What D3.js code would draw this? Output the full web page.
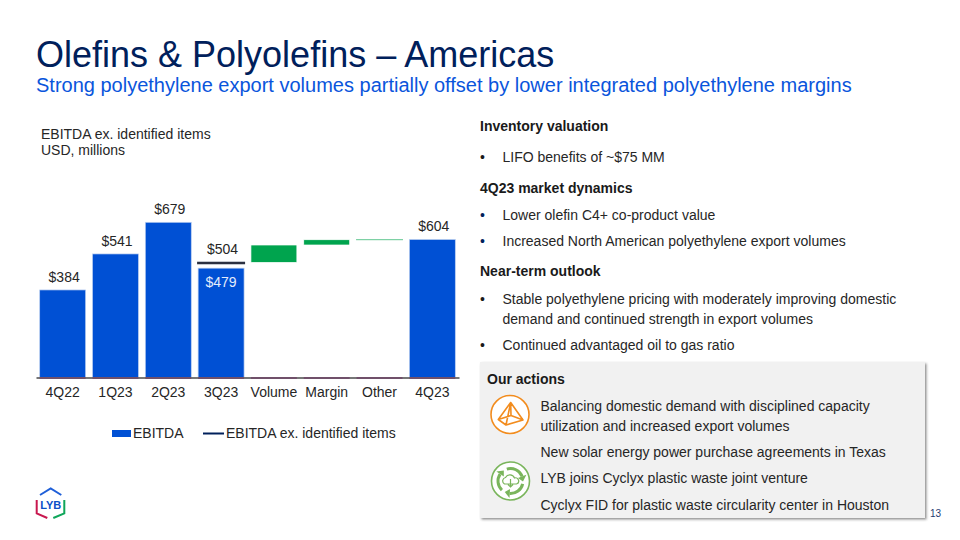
<!DOCTYPE html>
<html>
<head>
<meta charset="utf-8">
<script src="https://cdn.jsdelivr.net/npm/d3@7"></script>
<style>
  html, body { margin: 0; padding: 0; background: #fff; }
  svg { display: block; }
  text { font-family: "Liberation Sans", Arial, sans-serif; fill: #262626; }
</style>
</head>
<body>
<div id="chart"></div>
<script>
// chart data
var categories = ['4Q22', '1Q23', '2Q23', '3Q23', 'Volume', 'Margin', 'Other', '4Q23'];
var barBase = [0, 0, 0, 0, 504, 580, 603, 0];
var barValue = [384, 541, 679, 479, 76, 23, 1, 604];
var barKind = ['total', 'total', 'total', 'total', 'delta', 'delta', 'delta', 'total'];
var barLabels = ['$384', '$541', '$679', '$479', '', '', '', '$604'];
var exItemsCategory = '3Q23';
var exItemsValue = 504;
var exItemsLabel = '$504';

// right column text
var topBlocks = [
  ['head', 'Inventory valuation', 131],
  ['dot', 'LIFO benefits of ~$75 MM', 162],
  ['head', '4Q23 market dynamics', 193],
  ['dotBlue', 'Lower olefin C4+ co-product value', 220],
  ['dotBlue', 'Increased North American polyethylene export volumes', 246],
  ['head', 'Near-term outlook', 276],
  ['dot', 'Stable polyethylene pricing with moderately improving domestic', 304],
  ['cont', 'demand and continued strength in export volumes', 324],
  ['dot', 'Continued advantaged oil to gas ratio', 350]
];
var actionLines = [
  ['Balancing domestic demand with disciplined capacity', 411],
  ['utilization and increased export volumes', 431],
  ['New solar energy power purchase agreements in Texas', 457],
  ['LYB joins Cyclyx plastic waste joint venture', 483],
  ['Cyclyx FID for plastic waste circularity center in Houston', 510]
];

var svg = d3.select('#chart').append('svg')
  .attr('width', 960)
  .attr('height', 540);

var defs = svg.append('defs');
var blur = defs.append('filter').attr('id', 'boxShadow')
  .attr('x', '-5%').attr('y', '-5%').attr('width', '110%').attr('height', '110%');
blur.append('feDropShadow')
  .attr('dx', 1.5).attr('dy', 1.5).attr('stdDeviation', 1)
  .attr('flood-color', '#444').attr('flood-opacity', 0.6);

// titles
svg.append('text').attr('x', 36).attr('y', 66.5)
  .attr('font-size', 36).style('fill', '#00205b')
  .text('Olefins & Polyolefins \u2013 Americas');
svg.append('text').attr('x', 36).attr('y', 92)
  .attr('font-size', 20).style('fill', '#0a55dc')
  .text('Strong polyethylene export volumes partially offset by lower integrated polyethylene margins');

svg.append('text').attr('x', 41).attr('y', 138.5).attr('font-size', 14).text('EBITDA ex. identified items');
svg.append('text').attr('x', 41).attr('y', 154.5).attr('font-size', 14).text('USD, millions');

// scales
var x = d3.scaleBand().domain(categories).range([36, 459]).paddingInner(0.13).paddingOuter(0.07);
var y = d3.scaleLinear().domain([0, 679]).range([378, 222.3]);

// bars
var bars = categories.map(function(c, i) {
  return { cat: c, base: barBase[i], value: barValue[i], kind: barKind[i], label: barLabels[i] };
});

svg.selectAll('rect.bar').data(bars).enter().append('rect')
  .attr('class', 'bar')
  .attr('x', function(d) { return x(d.cat); })
  .attr('width', x.bandwidth())
  .attr('y', function(d) { return y(d.base + d.value); })
  .attr('height', function(d) { return y(d.base) - y(d.base + d.value); })
  .attr('fill', function(d) { return d.kind === 'total' ? '#0050d4' : '#00a44e'; })
  .attr('stroke', function(d) {
    if (d.kind === 'total') return '#bcd0f0';
    return d.value < 3 ? '#00a44e' : '#ffffff';
  })
  .attr('stroke-width', function(d) { return d.value < 3 ? 1 : 0.7; })
  .attr('opacity', function(d) { return d.value < 3 ? 0.5 : 1; });

// axis
var axis = d3.axisBottom(x).tickSize(0).tickPadding(10);
var axisG = svg.append('g').attr('transform', 'translate(0,377.5)').call(axis);
axisG.select('.domain').attr('stroke', '#777').attr('stroke-width', 1.8);
axisG.selectAll('text').attr('font-size', 14).attr('font-family', '"Liberation Sans", Arial, sans-serif').style('fill', '#262626');
svg.selectAll('line.zero').data(categories).enter().append('line')
  .attr('class', 'zero')
  .attr('x1', function(d) { return x(d); })
  .attr('x2', function(d) { return x(d) + x.bandwidth(); })
  .attr('y1', 378).attr('y2', 378)
  .attr('stroke', '#6b2a5e').attr('stroke-width', 1);

// value labels
svg.selectAll('text.val').data(bars.filter(function(d) { return d.label; })).enter().append('text')
  .attr('class', 'val')
  .attr('text-anchor', 'middle')
  .attr('font-size', 14)
  .attr('x', function(d) { return x(d.cat) + x.bandwidth() / 2 + (d.cat === exItemsCategory ? 0 : 1.5); })
  .attr('y', function(d) { return d.cat === exItemsCategory ? y(d.value) + 19 : y(d.value) - 8; })
  .style('fill', function(d) { return d.cat === exItemsCategory ? '#e4ecfb' : '#262626'; })
  .text(function(d) { return d.label; });

// ex identified items marker
svg.append('line')
  .attr('x1', x(exItemsCategory) - 1)
  .attr('x2', x(exItemsCategory) + x.bandwidth() + 1)
  .attr('y1', y(exItemsValue) + 0.5).attr('y2', y(exItemsValue) + 0.5)
  .attr('stroke', '#c4c8cf').attr('stroke-width', 4);
svg.append('line')
  .attr('x1', x(exItemsCategory) - 1)
  .attr('x2', x(exItemsCategory) + x.bandwidth() + 1)
  .attr('y1', y(exItemsValue) + 0.5).attr('y2', y(exItemsValue) + 0.5)
  .attr('stroke', '#2b3040').attr('stroke-width', 2);
svg.append('text')
  .attr('text-anchor', 'middle').attr('font-size', 14)
  .attr('x', x(exItemsCategory) + x.bandwidth() / 2 + 1.5)
  .attr('y', y(exItemsValue) - 8)
  .text(exItemsLabel);

// legend
svg.append('rect').attr('x', 112).attr('y', 430).attr('width', 19).attr('height', 7).attr('fill', '#0050d4');
svg.append('text').attr('x', 133).attr('y', 438).attr('font-size', 14).text('EBITDA');
svg.append('line').attr('x1', 203).attr('x2', 224).attr('y1', 433.5).attr('y2', 433.5)
  .attr('stroke', '#00205b').attr('stroke-width', 2);
svg.append('text').attr('x', 226).attr('y', 438).attr('font-size', 14).text('EBITDA ex. identified items');

// right column
topBlocks.forEach(function(b) {
  var kind = b[0];
  if (kind === 'head') {
    svg.append('text').attr('x', 480).attr('y', b[2]).attr('font-size', 14)
      .attr('font-weight', 'bold').style('fill', '#1a1a1a').text(b[1]);
    return;
  }
  if (kind !== 'cont') {
    svg.append('text').attr('x', 480).attr('y', b[2]).attr('font-size', 14)
      .style('fill', kind === 'dotBlue' ? '#00205b' : '#1a1a1a').text('\u2022');
  }
  svg.append('text').attr('x', 502.5).attr('y', b[2]).attr('font-size', 14).text(b[1]);
});

// actions box
svg.append('rect').attr('x', 480).attr('y', 362).attr('width', 445).attr('height', 156)
  .attr('fill', '#f1f1f1').attr('filter', 'url(#boxShadow)');
svg.append('text').attr('x', 487).attr('y', 383.5).attr('font-size', 14)
  .attr('font-weight', 'bold').style('fill', '#1a1a1a').text('Our actions');
actionLines.forEach(function(l) {
  svg.append('text').attr('x', 540.5).attr('y', l[1]).attr('font-size', 14).text(l[0]);
});

// orange pyramid icon
var ic1 = svg.append('g').attr('transform', 'translate(510,414.5)');
ic1.append('circle').attr('r', 19).attr('fill', '#fff').attr('stroke', '#f28c1e').attr('stroke-width', 1.6);
ic1.append('path').attr('d', 'M0.7,-12 L-11.7,5 L-4,10.5 L13,5.5 Z M0.7,-12 L-4,10.5 M0.7,-12 L1,1 L-11.7,5 M1,1 L13,5.5')
  .attr('fill', 'none').attr('stroke', '#f28c1e').attr('stroke-width', 1.6).attr('stroke-linejoin', 'round');

// green circular icon
var ic2 = svg.append('g').attr('transform', 'translate(510.5,481)');
ic2.append('circle').attr('r', 19).attr('fill', '#fff').attr('stroke', '#7ab55c').attr('stroke-width', 1.6);
var arc = d3.arc().innerRadius(11).outerRadius(14);
[[-0.3, 1.2], [1.8, 3.2], [3.9, 5.3]].forEach(function(a) {
  ic2.append('path').attr('d', arc({ startAngle: a[0], endAngle: a[1] })).attr('fill', '#7ab55c');
  var r = 12.5;
  var tip = a[1] + 0.42;
  var p = function(rad, ang) { return [rad * Math.sin(ang), -rad * Math.cos(ang)]; };
  ic2.append('path').attr('d', 'M' + p(r - 4.5, a[1]) + ' L' + p(r + 4.5, a[1]) + ' L' + p(r, tip) + ' Z').attr('fill', '#7ab55c');
});
ic2.append('path').attr('d', 'M-6,3 a3.5,3.5 0 0 1 1,-6.5 a5,5 0 0 1 9,0.5 a3,3 0 0 1 2,6 Z M0,-2 V6 M-2.5,3.5 L0,6 L2.5,3.5')
  .attr('fill', 'none').attr('stroke', '#7ab55c').attr('stroke-width', 1.2);

// logo
var logo = svg.append('g').attr('fill', 'none').attr('stroke-width', 2);
logo.append('path').attr('d', 'M40,495 L50.7,488.5 L61.3,495').attr('stroke', '#1f5fd8');
logo.append('path').attr('d', 'M36.7,500 V513.3 L47.3,518').attr('stroke', '#c8184f');
logo.append('path').attr('d', 'M64.3,500 V513.3 L53.3,518').attr('stroke', '#0fa65a');
svg.append('text').attr('x', 50.8).attr('y', 508.5).attr('text-anchor', 'middle')
  .attr('font-size', 11).attr('font-weight', 'bold').style('fill', '#0b50c8').text('LYB');

// page number
svg.append('text').attr('x', 930).attr('y', 517).attr('font-size', 10).style('fill', '#1f3a70').text('13');
</script>
</body>
</html>
